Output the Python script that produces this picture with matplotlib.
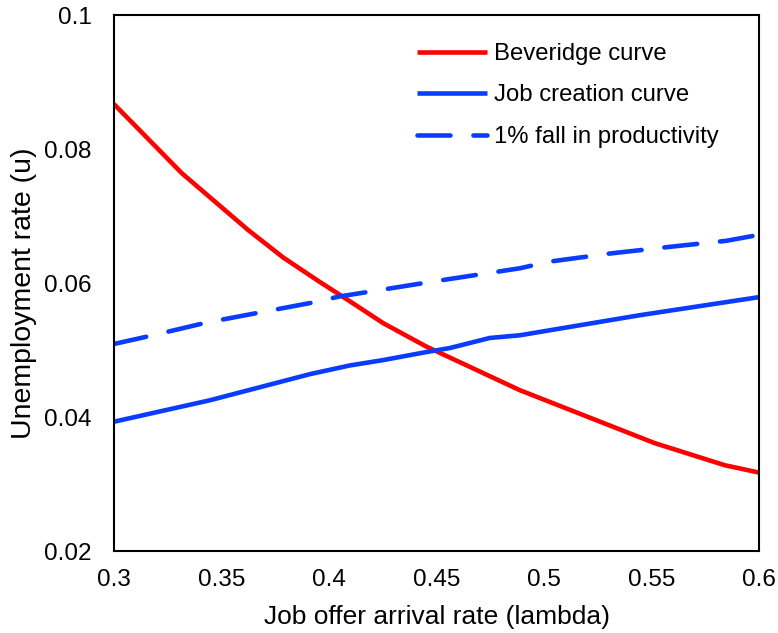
import matplotlib
matplotlib.use("Agg")
import matplotlib.pyplot as plt

plt.rcParams['font.family'] = ['Liberation Sans', 'DejaVu Sans']

# Beveridge curve
lam_bev = [0.300, 0.3315, 0.3624, 0.3787, 0.3950, 0.4100, 0.4252, 0.4453,
           0.4887, 0.5514, 0.5840, 0.600]
u_bev = [0.0867, 0.0764, 0.0679, 0.0638, 0.0603, 0.0572, 0.0540, 0.0505,
         0.0440, 0.0361, 0.0328, 0.0317]

# Job creation curve
lam_jc = [0.300, 0.3446, 0.3911, 0.4097, 0.4252, 0.4453, 0.4562, 0.4747,
          0.4887, 0.5445, 0.600]
u_jc = [0.0393, 0.0425, 0.0464, 0.0477, 0.0485, 0.0497, 0.0503, 0.0518,
        0.0522, 0.0552, 0.0579]

# 1% fall in productivity
lam_fall = [0.300, 0.3167, 0.3431, 0.3694, 0.3910, 0.4050, 0.4500, 0.4887,
            0.5026, 0.5305, 0.5584, 0.5847, 0.600]
u_fall = [0.0509, 0.0521, 0.0541, 0.0557, 0.0570, 0.0580, 0.0603, 0.0622,
          0.0632, 0.0644, 0.0654, 0.0663, 0.0672]

x_ticks = [0.3, 0.35, 0.4, 0.45, 0.5, 0.55, 0.6]
x_labels = ["0.3", "0.35", "0.4", "0.45", "0.5", "0.55", "0.6"]
y_ticks = [0.02, 0.04, 0.06, 0.08, 0.1]
y_labels = ["0.02", "0.04", "0.06", "0.08", "0.1"]

red = "#ff0000"
blue = "#0a3cff"

fig = plt.figure(figsize=(7.78, 6.33), dpi=100)
ax = fig.add_axes([0.1465, 0.1295, 0.8295, 0.8468])

lw = 3.3
ax.plot(lam_bev, u_bev, color=red, lw=lw, solid_capstyle="butt", label="Beveridge curve")
ax.plot(lam_jc, u_jc, color=blue, lw=lw, solid_capstyle="butt", label="Job creation curve")
ax.plot(lam_fall, u_fall, color=blue, lw=lw, dashes=(7.2, 5.0),
        dash_capstyle="round", label="1% fall in productivity")

ax.set_xlim(0.3, 0.6)
ax.set_ylim(0.02, 0.1)
ax.set_xticks(x_ticks)
ax.set_xticklabels(x_labels)
ax.set_yticks(y_ticks)
ax.set_yticklabels(y_labels)
ax.tick_params(axis="both", length=0, labelsize=17.5, colors="black")
ax.tick_params(axis="y", pad=16)
ax.tick_params(axis="x", pad=13)

for s in ax.spines.values():
    s.set_linewidth(1.5)
    s.set_color("black")

ax.set_xlabel("Job offer arrival rate (lambda)", fontsize=19, labelpad=10)
ax.set_ylabel("Unemployment rate (u)", fontsize=20.5)
ax.yaxis.set_label_coords(-0.12, 0.481)

ax.legend(loc="upper left", bbox_to_anchor=(0.469, 0.948), frameon=False,
          fontsize=17.2, handlelength=2.95, handletextpad=0.3,
          labelspacing=0.82, borderpad=0, borderaxespad=0)

fig.savefig("out.png", dpi=100)
